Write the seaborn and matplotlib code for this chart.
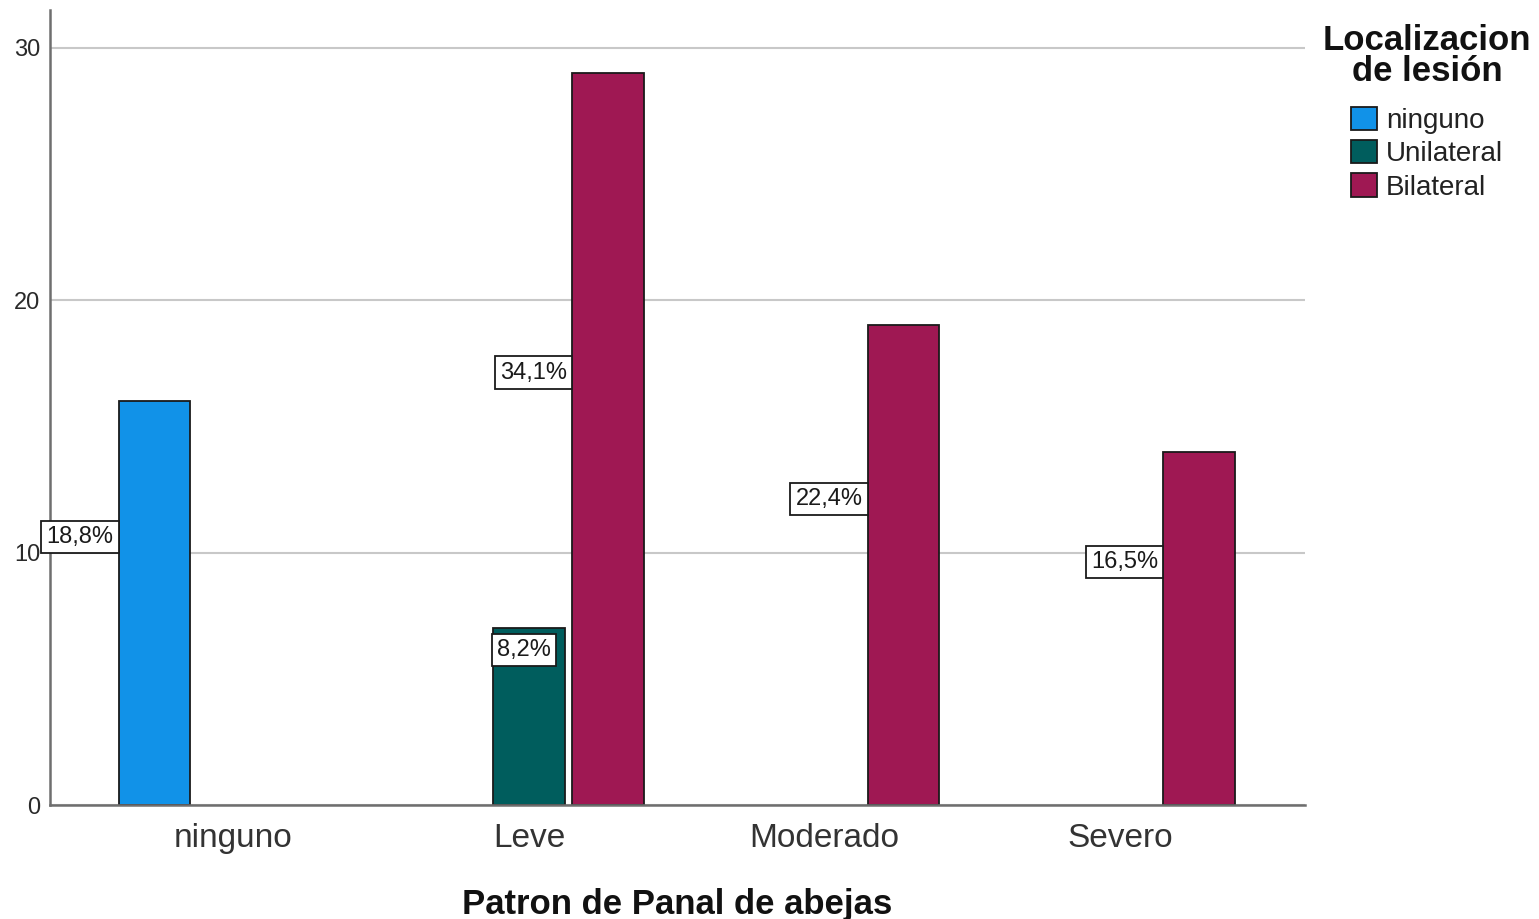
import matplotlib
matplotlib.use("Agg")
import matplotlib.pyplot as plt
from matplotlib.patches import Patch
import pandas as pd
import seaborn as sns

# Counts per honeycomb-pattern category and lesion location (empty cells omitted)
patron = ["ninguno", "Leve", "Leve", "Moderado", "Severo"]
localizacion = ["ninguno", "Unilateral", "Bilateral", "Bilateral", "Bilateral"]
recuento = [16, 7, 29, 19, 14]

categorias = ["ninguno", "Leve", "Moderado", "Severo"]
niveles = ["ninguno", "Unilateral", "Bilateral"]
colores = ["#1192e8", "#005d5d", "#9f1853"]

df = pd.DataFrame({"patron": patron, "loc": localizacion, "n": recuento})
total = sum(recuento)

sns.set_theme(style="white")
plt.rcParams["font.family"] = ["Liberation Sans", "DejaVu Sans"]

fig = plt.figure(figsize=(15.39, 9.19), dpi=100)
ax = fig.add_axes([50 / 1539, 1 - 805 / 919, 1255 / 1539, 795 / 919])

sns.barplot(
    data=df, x="patron", y="n", hue="loc",
    order=categorias, hue_order=niveles, palette=colores, saturation=1,
    width=0.8, gap=0.09, edgecolor="#1a1a1a", linewidth=1.3,
    legend=False, ax=ax,
)

ax.set_xlim(-0.62, 3.625)
ax.set_ylim(0, 31.5)
ax.set_yticks([0, 10, 20, 30])
ax.yaxis.grid(True, color="#c8c8c8", linewidth=1.5)
ax.set_axisbelow(True)
for s in ["top", "right"]:
    ax.spines[s].set_visible(False)
for s in ["left", "bottom"]:
    ax.spines[s].set_color("#6e6e6e")
    ax.spines[s].set_linewidth(1.8)
ax.tick_params(axis="y", length=0, pad=7, labelsize=17, labelcolor="#2a2a2a")
ax.tick_params(axis="x", length=0, pad=13, labelsize=24, labelcolor="#333333")
ax.set_ylabel("")
ax.set_xlabel("Patron de Panal de abejas", fontsize=25, fontweight="bold", color="#111111")
ax.xaxis.set_label_coords(0.5, -0.125)
ax.xaxis.label.set_verticalalignment("center")

# Percentage labels in white boxes beside each bar
lado = {"ninguno": "left", "Unilateral": "inside", "Bilateral": "left"}
for nivel, cont in zip(niveles, ax.containers):
    for bar, val in zip(cont, cont.datavalues):
        if val != val or val == 0:
            continue
        txt = f"{val / total * 100:.1f}%".replace(".", ",")
        y = val / 2 + 2.63
        if lado[nivel] == "inside":
            x, ha = bar.get_x() + 0.014, "left"
        else:
            x, ha = bar.get_x() - 0.017, "right"
        ax.text(x, y, txt, ha=ha, va="center", fontsize=17, color="#1a1a1a",
                bbox=dict(boxstyle="square,pad=0.22", fc="white", ec="#1a1a1a", lw=1.3),
                zorder=5)

# Legend: centred bold title above the colour keys
fig.text(1427 / 1539, 1 - 56 / 919, "Localizacion\nde lesión", ha="center", va="center",
         fontsize=25, fontweight="bold", color="#111111", linespacing=0.95,
         multialignment="center")
handles = [Patch(facecolor=c, edgecolor="#1a1a1a", linewidth=1.3) for c in colores]
leg = fig.legend(
    handles, niveles,
    loc="upper center", bbox_to_anchor=(1427 / 1539, 1 - 107 / 919),
    frameon=False, fontsize=20, handlelength=0.95, handleheight=0.9,
    handletextpad=0.3, labelspacing=0.22, borderpad=0, borderaxespad=0,
)
for t in leg.get_texts():
    t.set_color("#222222")

fig.savefig("out.png", dpi=100, facecolor="white")
